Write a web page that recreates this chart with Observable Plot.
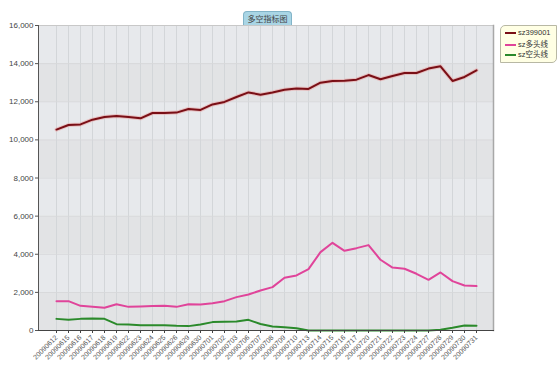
<!DOCTYPE html>
<html>
<head>
<meta charset="utf-8">
<script src="https://cdn.jsdelivr.net/npm/d3@7"></script>
<script src="https://cdn.jsdelivr.net/npm/@observablehq/plot@0.6"></script>
<style>
  body { margin: 0; background: #fff; }
  #wrap { position: relative; width: 560px; height: 384px; overflow: hidden; }
  #title {
    position: absolute; left: 243px; top: 11px; width: 47px; height: 13px;
    background: #a9d5e5; border: 1px solid #82b4c8; border-bottom: none;
    border-radius: 4px 4px 0 0; font: 8px "Noto Sans CJK SC", sans-serif;
    color: #444; text-align: center; line-height: 13px;
  }
  #legend {
    position: absolute; left: 500px; top: 25px; width: 55px; height: 36px;
    background: #ffffe4; border: 1px solid #b8b8a4; border-radius: 5px 0 5px 0;
    font: 7.5px "Liberation Sans", Arial, sans-serif; color: #333;
  }
  .row { position: absolute; left: 4px; height: 10px; line-height: 10px; white-space: nowrap; }
  .sw { display: inline-block; width: 11px; height: 2px; vertical-align: middle; margin-right: 2px; }
  .cjk { font-family: "Noto Sans CJK SC", sans-serif; }
</style>
</head>
<body>
<div id="wrap"></div>
<script>
const dates = ["20090612","20090615","20090616","20090617","20090618","20090619","20090622","20090623","20090624","20090625","20090626","20090629","20090630","20090701","20090702","20090703","20090706","20090707","20090708","20090709","20090710","20090713","20090714","20090715","20090716","20090717","20090720","20090721","20090722","20090723","20090724","20090727","20090728","20090729","20090730","20090731"];
const sz399001 = [10540,10780,10810,11060,11200,11250,11200,11130,11410,11410,11430,11620,11570,11860,11990,12250,12490,12370,12490,12630,12690,12670,13000,13090,13100,13160,13400,13180,13350,13510,13510,13740,13860,13090,13300,13650];
const duoLine = [1540,1540,1295,1240,1190,1380,1240,1260,1280,1295,1240,1380,1365,1435,1540,1750,1890,2100,2275,2765,2890,3220,4110,4600,4180,4320,4480,3710,3300,3240,2975,2660,3045,2590,2360,2330];
const kongLine = [610,560,610,630,610,330,315,280,280,280,245,230,315,440,455,470,560,340,210,175,120,0,0,0,0,0,0,0,0,0,0,0,40,140,260,245];
const yTicks = [0,2000,4000,6000,8000,10000,12000,14000,16000];
const seriesNames = ["sz399001","sz多头线","sz空头线"];
const seriesColors = ["#7a0f16","#e0449a","#2b8a2b"];

const seriesValues = [sz399001, duoLine, kongLine];
const rows = [];
seriesNames.forEach((name, i) => dates.forEach((d, j) => rows.push({series: name, date: d, value: seriesValues[i][j]})));
const bands = yTicks.slice(0, -1).map((t, i) => ({y1: t, y2: yTicks[i + 1], dark: i % 2 === 0}));

const chart = Plot.plot({
  width: 560, height: 384,
  marginLeft: 38, marginRight: 67, marginTop: 25, marginBottom: 54,
  style: {fontFamily: "'Liberation Sans', Arial, sans-serif", fontSize: "7px", background: "transparent", overflow: "visible"},
  x: {type: "point", domain: dates, padding: 0.5},
  y: {domain: [0, 16000]},
  marks: [
    Plot.rect(bands, {y1: "y1", y2: "y2", fill: d => d.dark ? "#e2e3e5" : "#e7e9ec"}),
    Plot.ruleX(dates, {x: d => d, stroke: "#d3d6d9", strokeWidth: 1}),
    Plot.ruleY(yTicks, {stroke: "#d7d8da", strokeWidth: 1}),
    Plot.line(rows.filter(r => r.series === seriesNames[0]), {x: "date", y: "value", stroke: "#e8a8a8", strokeWidth: 4, strokeOpacity: 0.6}),
    Plot.line(rows, {x: "date", y: "value", z: "series", stroke: "series", strokeWidth: 2}),
    Plot.frame({anchor: "top", stroke: "#c8c8c8"}),
    Plot.frame({anchor: "right", stroke: "#a8a8a8", strokeWidth: 1.5}),
    Plot.frame({anchor: "left", stroke: "#555"}),
    Plot.frame({anchor: "bottom", stroke: "#444"}),
    Plot.axisY({ticks: yTicks, tickFormat: d3.format(","), tickSize: 3, tickPadding: 2, fill: "#444", stroke: "#555", label: null, fontSize: 8}),
    Plot.axisX({tickRotate: -45, tickSize: 3, tickPadding: 3, fill: "#555", stroke: "#444", label: null, fontSize: 7})
  ],
  color: {domain: seriesNames, range: seriesColors}
});

const wrap = document.getElementById("wrap");
wrap.appendChild(chart);

const title = document.createElement("div");
title.id = "title";
title.textContent = "多空指标图";
wrap.appendChild(title);

const legend = document.createElement("div");
legend.id = "legend";
seriesNames.forEach((name, i) => {
  const r = document.createElement("div");
  r.className = "row";
  r.style.top = (2 + i * 10.5) + "px";
  const sw = document.createElement("span");
  sw.className = "sw";
  sw.style.background = seriesColors[i];
  r.appendChild(sw);
  const m = name.match(/^([A-Za-z0-9]+)(.*)$/);
  const a = document.createElement("span");
  a.textContent = m[1];
  r.appendChild(a);
  if (m[2]) {
    const b = document.createElement("span");
    b.className = "cjk";
    b.textContent = m[2];
    r.appendChild(b);
  }
  legend.appendChild(r);
});
wrap.appendChild(legend);
</script>
</body>
</html>
